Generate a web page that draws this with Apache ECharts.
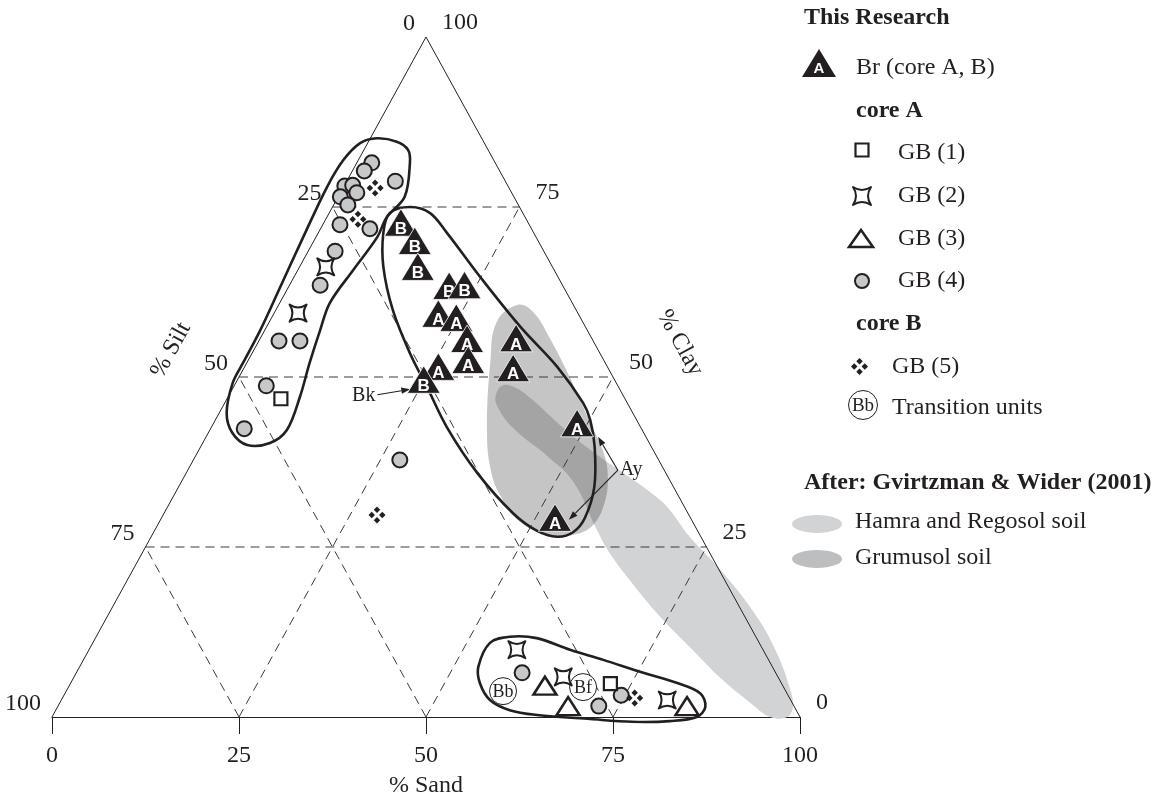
<!DOCTYPE html>
<html>
<head>
<meta charset="utf-8">
<script src="https://cdn.jsdelivr.net/npm/echarts@6/dist/echarts.min.js"></script>
<style>
  html, body { margin: 0; padding: 0; background: #ffffff; }
  #chart { width: 1160px; height: 797px; }
</style>
</head>
<body>
<div id="chart"></div>
<script>
// Ternary soil-texture diagram. Every point is [sand %, clay %]; silt is the remainder.
const sandTicks = [0, 25, 50, 75, 100];
const siltTicks = [0, 25, 50, 75, 100];
const clayTicks = [0, 25, 50, 75, 100];
const gridLevels = [25, 50, 75];

// Br horizons (black triangles, lettered by core)
const brCoreA = [[22.3, 58.7], [25.0, 58.1], [28.0, 55.0], [34.5, 55.1], [26.2, 50.9],
                 [29.7, 51.9], [36.3, 50.7], [48.9, 42.6], [52.9, 28.7]];
const brCoreB = [[10.6, 72.1], [13.8, 69.4], [16.1, 65.6], [21.7, 62.8], [23.7, 62.9], [25.2, 49.0]];

// Core A, GB units
const gb1 = [[7.2, 46.8], [72.2, 4.9]];
const gb2 = [[3.5, 66.2], [3.2, 59.4], [57.2, 9.9], [65.4, 5.9], [81.0, 2.5]];
const gb3 = [[63.6, 4.6], [68.2, 1.6], [84.1, 1.6]];
const gb4 = [[2.0, 81.5], [1.6, 80.3], [6.5, 78.8], [0.1, 78.1], [1.1, 78.2], [2.2, 77.1],
             [0.3, 76.5], [1.9, 75.3], [2.3, 72.4], [6.6, 71.8], [3.6, 68.5], [4.1, 63.5],
             [2.7, 55.3], [5.5, 55.3], [4.3, 48.7], [4.5, 42.4], [27.6, 37.8],
             [59.6, 6.5], [72.3, 1.6], [74.5, 3.2]];
// Core B, GB unit
const gb5 = [[4.3, 77.8], [4.3, 73.2], [28.6, 29.7], [76.5, 2.8]];

// Transition units
const transitionNames = ['Bb', 'Bf'];
const transitionUnits = [[58.4, 3.8], [68.8, 4.4]];

// Soil fields after Gvirtzman & Wider (2001)
const hamraRegosol = [[35.9, 48.8], [37.6, 48.5], [40.5, 46.9], [47.1, 42.5], [52.8, 39.0],
  [58.4, 35.9], [62.9, 33.4], [66.8, 30.9], [72.0, 26.5], [79.1, 21.2], [86.9, 14.7],
  [92.2, 9.4], [96.7, 4.0], [98.3, 1.5], [98.3, 0], [96.0, 0], [92.3, 2.1], [87.0, 5.4],
  [80.1, 10.3], [73.2, 15.3], [67.2, 20.1], [62.5, 24.1], [59.1, 27.5], [52.4, 34.6],
  [47.0, 38.4], [40.4, 42.5], [36.5, 45.9], [35.6, 47.6]];
const grumusol = [[31.9, 60.6], [34.5, 59.6], [38.7, 55.7], [44.3, 49.9], [50.2, 43.4],
  [54.2, 39.0], [56.5, 35.6], [58.1, 31.6], [58.2, 28.2], [56.3, 26.8], [52.8, 26.8],
  [48.2, 28.7], [43.6, 32.6], [40.3, 36.6], [36.9, 42.5], [32.5, 52.2], [30.4, 58.1]];

// Sample group envelopes
const envelopeSilt = [[0.9, 85.1], [3.8, 84.6], [5.9, 83.4], [7.1, 81.5], [8.9, 76.5], [8.0, 73.5],
  [8.2, 70.6], [7.4, 65.7], [6.7, 60.9], [7.4, 56.9], [8.4, 52.1], [9.6, 47.1], [10.3, 42.2],
  [9.0, 40.3], [6.1, 40.0], [3.2, 41.8], [1.0, 44.7], [-0.4, 49.1], [-0.5, 52.1], [-0.6, 56.9],
  [-1.1, 63.2], [-1.7, 70.6], [-2.2, 77.9], [-2.0, 81.9], [-1.0, 84.4]];
const envelopeBr = [[10.4, 75.0], [13.5, 74.1], [17.2, 71.2], [24.9, 64.7], [33.9, 57.4],
  [41.8, 51.5], [47.9, 46.2], [50.1, 43.7], [52.7, 39.7], [55.6, 33.8], [56.6, 29.3],
  [56.1, 27.2], [54.3, 26.5], [51.1, 27.4], [46.6, 30.0], [38.9, 35.9], [31.5, 42.6],
  [25.9, 48.5], [21.1, 53.5], [15.6, 59.9], [11.2, 66.2], [8.7, 71.2], [8.1, 74.1]];
const envelopeSand = [[53.3, 7.4], [53.1, 10.9], [55.3, 11.8], [59.0, 11.6], [64.3, 9.9],
  [69.5, 8.4], [75.8, 6.5], [81.1, 5.0], [84.9, 3.5], [86.6, 1.5], [86.2, 0], [82.9, -0.6],
  [77.9, -0.7], [72.1, -0.3], [64.7, 0.3], [60.7, 1.0], [57.3, 2.5], [54.7, 5.0]];

// Pointer arrows for the Bk and Ay horizons
const bkArrow = [[19.8, 47.4], [23.8, 48.2]];
const ayArrows = [[[57.5, 36.3], [52.4, 41.2]], [[57.5, 36.3], [54.6, 29.0]]];

const INK = '#231f20';
const SERIF = '"Liberation Serif", "Times New Roman", serif';
const SANS = '"Liberation Sans", Arial, sans-serif';
const STAR_PATH = 'M1 1 Q10 7 19 1 Q13 10 19 19 Q10 13 1 19 Q7 10 1 1 Z';
const DIAMONDS_PATH = 'M10 0 L13.8 3.8 L10 7.6 L6.2 3.8 Z M3.8 6.2 L7.6 10 L3.8 13.8 L0 10 Z ' +
  'M16.2 6.2 L20 10 L16.2 13.8 L12.4 10 Z M10 12.4 L13.8 16.2 L10 20 L6.2 16.2 Z';

// ternary (sand, clay) -> cartesian (x, y) on the hidden value axes
const toXY = p => [p[0] + p[1] / 2, p[1]];

function regionSeries(name, points, style, smooth) {
  return {
    name, type: 'custom', clip: false, silent: true, data: [[0, 0]],
    renderItem: (params, api) => ({
      type: 'polygon',
      shape: { points: points.map(p => api.coord(toXY(p))), smooth: smooth },
      style: style
    })
  };
}

function frameItem(params, api) {
  const P = (s, c) => api.coord(toXY([s, c]));
  const children = [];
  const dash = { stroke: '#3a3a3a', lineWidth: 1, lineDash: [9, 6], fill: null };
  const seg = (a, b, style) => children.push({
    type: 'line', shape: { x1: a[0], y1: a[1], x2: b[0], y2: b[1] }, style
  });
  gridLevels.forEach(v => {
    seg(P(0, v), P(100 - v, v), dash);        // constant clay
    seg(P(v, 0), P(v, 100 - v), dash);        // constant sand
    seg(P(100 - v, 0), P(0, 100 - v), dash);  // constant silt
  });
  const top = P(0, 100), bl = P(0, 0), br = P(100, 0);
  children.push({ type: 'polyline', shape: { points: [bl, top, br] },
    style: { stroke: INK, lineWidth: 1, fill: null } });

  const font = '24px ' + SERIF;
  siltTicks.forEach(v => {
    const p = P(0, 100 - v);
    children.push({ type: 'text', x: p[0] - 11, y: p[1] - 13,
      style: { text: String(v), font, fill: INK, align: 'right', verticalAlign: 'middle' } });
  });
  clayTicks.forEach(v => {
    const p = P(100 - v, v);
    children.push({ type: 'text', x: p[0] + 16, y: p[1] - 14,
      style: { text: String(v), font, fill: INK, align: 'left', verticalAlign: 'middle' } });
  });
  const ang = Math.atan2(bl[1] - top[1], top[0] - bl[0]);
  const ml = P(0, 50), mr = P(50, 50);
  children.push({ type: 'text', x: ml[0] - 68, y: ml[1] - 27, rotation: ang,
    style: { text: '% Silt', font, fill: INK, align: 'center', verticalAlign: 'middle' } });
  children.push({ type: 'text', x: mr[0] + 67, y: mr[1] - 34, rotation: -ang,
    style: { text: '% Clay', font, fill: INK, align: 'center', verticalAlign: 'middle' } });
  return { type: 'group', children };
}

function envelopeItem(params, api) {
  const style = { stroke: INK, lineWidth: 2.6, fill: null };
  return {
    type: 'group',
    children: [envelopeSilt, envelopeBr, envelopeSand].map(pts => ({
      type: 'polygon',
      shape: { points: pts.map(p => api.coord(toXY(p))), smooth: 0.35 },
      style
    }))
  };
}

function arrowShapes(a, b) {
  const dx = b[0] - a[0], dy = b[1] - a[1];
  const len = Math.hypot(dx, dy), ux = dx / len, uy = dy / len;
  const hl = 9, hw = 3.2;
  const bx = b[0] - ux * hl, by = b[1] - uy * hl;
  return [
    { type: 'line', shape: { x1: a[0], y1: a[1], x2: bx, y2: by },
      style: { stroke: INK, lineWidth: 1.1 } },
    { type: 'polygon', shape: { points: [b, [bx - uy * hw, by + ux * hw], [bx + uy * hw, by - ux * hw]] },
      style: { fill: INK } }
  ];
}

function arrowItem(params, api) {
  const C = p => api.coord(toXY(p));
  const children = [];
  const bkA = C(bkArrow[0]), bkB = C(bkArrow[1]);
  children.push(...arrowShapes(bkA, bkB));
  children.push({ type: 'text', x: bkA[0] - 2, y: bkA[1] + 1,
    style: { text: 'Bk', font: '20px ' + SERIF, fill: INK, align: 'right', verticalAlign: 'middle' } });
  ayArrows.forEach(pair => children.push(...arrowShapes(C(pair[0]), C(pair[1]))));
  const ay = C(ayArrows[0][0]);
  children.push({ type: 'text', x: ay[0] + 2, y: ay[1],
    style: { text: 'Ay', font: '20px ' + SERIF, fill: INK, align: 'left', verticalAlign: 'middle' } });
  return { type: 'group', children };
}

function lettered(letter) {
  return (params, api) => {
    const p = api.coord([api.value(0), api.value(1)]);
    return {
      type: 'group',
      children: [
        { type: 'polygon', shape: { points: [[p[0], p[1] - 18], [p[0] + 16.5, p[1] + 9.5], [p[0] - 16.5, p[1] + 9.5]] },
          style: { fill: INK, stroke: '#ffffff', lineWidth: 0.8 } },
        { type: 'text', x: p[0], y: p[1] + 2.5,
          style: { text: letter, font: 'bold 17px ' + SANS, fill: '#ffffff', align: 'center', verticalAlign: 'middle' } }
      ]
    };
  };
}

function transitionItem(params, api) {
  const p = api.coord([api.value(0), api.value(1)]);
  return {
    type: 'group',
    children: [
      { type: 'circle', shape: { cx: p[0], cy: p[1], r: 13.5 }, style: { fill: '#ffffff', stroke: INK, lineWidth: 1 } },
      { type: 'text', x: p[0], y: p[1] + 1,
        style: { text: transitionNames[params.dataIndex], font: '18px ' + SERIF, fill: INK, align: 'center', verticalAlign: 'middle' } }
    ]
  };
}

function scatter(name, pts, symbol, size, itemStyle) {
  return { name, type: 'scatter', data: pts.map(toXY), symbol, symbolSize: size,
    itemStyle, silent: true, emphasis: { disabled: true } };
}

// ---- legend block on the right (screen positions) ----
function legendItem() {
  const txt = (text, x, y, bold) => ({
    type: 'text', x, y,
    style: { text, font: (bold ? 'bold ' : '') + '24px ' + SERIF, fill: INK, align: 'left', verticalAlign: 'middle' }
  });
  return {
    type: 'group',
    children: [
      txt('This Research', 804, 18, true),
      { type: 'polygon', shape: { points: [[819, 49], [836, 77], [802, 77]] }, style: { fill: INK } },
      { type: 'text', x: 819, y: 69, style: { text: 'A', font: 'bold 15px ' + SANS, fill: '#ffffff', align: 'center', verticalAlign: 'middle' } },
      txt('Br (core A, B)', 856, 68),
      txt('core A', 856, 111, true),
      { type: 'rect', shape: { x: 855.5, y: 143.5, width: 13, height: 13 }, style: { fill: '#ffffff', stroke: INK, lineWidth: 2.2 } },
      txt('GB (1)', 898, 153),
      { type: 'path', shape: { pathData: STAR_PATH, x: 853, y: 187, width: 18, height: 18 },
        style: { fill: '#ffffff', stroke: INK, lineWidth: 2, lineJoin: 'round' } },
      txt('GB (2)', 898, 196),
      { type: 'polygon', shape: { points: [[861, 230], [873, 247], [849, 247]] }, style: { fill: '#ffffff', stroke: INK, lineWidth: 2.5 } },
      txt('GB (3)', 898, 239),
      { type: 'circle', shape: { cx: 862, cy: 281, r: 7 }, style: { fill: '#c7c8ca', stroke: INK, lineWidth: 2 } },
      txt('GB (4)', 898, 281),
      txt('core B', 856, 324, true),
      { type: 'path', shape: { pathData: DIAMONDS_PATH, x: 851, y: 358, width: 17, height: 17 }, style: { fill: INK } },
      txt('GB (5)', 892, 367),
      { type: 'circle', shape: { cx: 863, cy: 405, r: 14.5 }, style: { fill: '#ffffff', stroke: INK, lineWidth: 1 } },
      { type: 'text', x: 863, y: 406, style: { text: 'Bb', font: '19px ' + SERIF, fill: INK, align: 'center', verticalAlign: 'middle' } },
      txt('Transition units', 892, 408),
      txt('After: Gvirtzman & Wider (2001)', 804, 483, true),
      { type: 'circle', shape: { cx: 0, cy: 0, r: 25 }, x: 817, y: 524, scaleY: 0.36, style: { fill: '#d1d3d4' } },
      txt('Hamra and Regosol soil', 855, 522),
      { type: 'circle', shape: { cx: 0, cy: 0, r: 25 }, x: 817, y: 559, scaleY: 0.36, style: { fill: '#bcbec0' } },
      txt('Grumusol soil', 855, 558)
    ]
  };
}

const chart = echarts.init(document.getElementById('chart'));
chart.setOption({
  animation: false,
  backgroundColor: '#ffffff',
  grid: { left: 52, right: 360, top: 37, bottom: 80, containLabel: false, outerBoundsMode: 'none' },
  xAxis: {
    type: 'value', min: 0, max: 100, interval: 25,
    axisLine: { show: true, onZero: false, lineStyle: { color: INK, width: 1 } },
    axisTick: { show: true, length: 17, customValues: sandTicks, lineStyle: { color: INK, width: 1 } },
    axisLabel: { customValues: sandTicks, margin: 39, verticalAlign: 'middle', showMinLabel: true, showMaxLabel: true,
      fontFamily: SERIF, fontSize: 24, color: INK },
    splitLine: { show: false },
    name: '% Sand', nameLocation: 'middle', nameGap: 69,
    nameTextStyle: { fontFamily: SERIF, fontSize: 24, color: INK, verticalAlign: 'middle' }
  },
  yAxis: { type: 'value', min: 0, max: 100, show: false },
  series: [
    regionSeries('Hamra and Regosol soil', hamraRegosol, { fill: '#d1d3d4' }, 0.4),
    regionSeries('Grumusol soil', grumusol, { fill: 'rgba(35,31,32,0.26)' }, 0.4),
    { type: 'custom', name: 'frame', clip: false, silent: true, data: [[0, 0]], renderItem: frameItem },
    { type: 'custom', name: 'envelopes', clip: false, silent: true, data: [[0, 0]], renderItem: envelopeItem },
    { type: 'custom', name: 'pointers', clip: false, silent: true, data: [[0, 0]], renderItem: arrowItem },
    { type: 'custom', name: 'Transition units', clip: false, silent: true, data: transitionUnits.map(toXY), renderItem: transitionItem },
    scatter('GB (4)', gb4, 'circle', 15, { color: '#c7c8ca', borderColor: INK, borderWidth: 2, opacity: 1 }),
    scatter('GB (5)', gb5, 'path://' + DIAMONDS_PATH, 17, { color: INK, opacity: 1 }),
    scatter('GB (2)', gb2, 'path://' + STAR_PATH, 17, { color: '#ffffff', borderColor: INK, borderWidth: 2, borderJoin: 'round', opacity: 1 }),
    scatter('GB (1)', gb1, 'rect', 13, { color: '#ffffff', borderColor: INK, borderWidth: 2.2, opacity: 1 }),
    scatter('GB (3)', gb3, 'triangle', [23, 18], { color: '#ffffff', borderColor: INK, borderWidth: 2.5, opacity: 1 }),
    { type: 'custom', name: 'Br core A', clip: false, silent: true, data: brCoreA.map(toXY), renderItem: lettered('A') },
    { type: 'custom', name: 'Br core B', clip: false, silent: true, data: brCoreB.map(toXY), renderItem: lettered('B') },
    { type: 'custom', name: 'legend', clip: false, silent: true, data: [[0, 0]], renderItem: legendItem }
  ]
});
</script>
</body>
</html>
